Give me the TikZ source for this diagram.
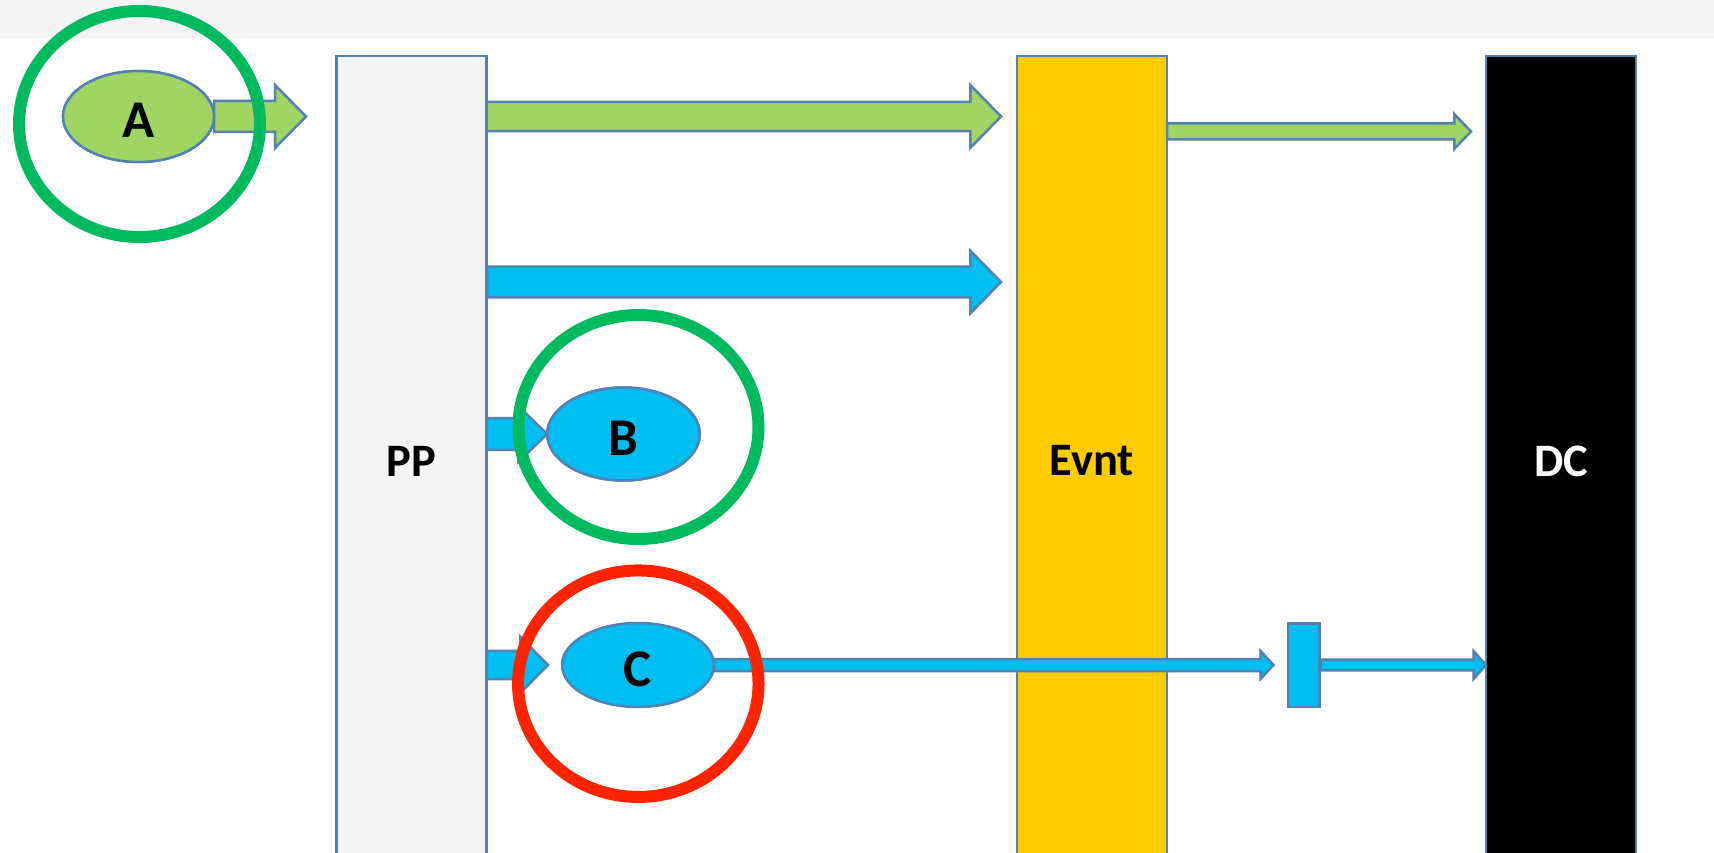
\documentclass[tikz,border=0pt]{standalone}
\usepackage{fontspec}
\setmainfont{Carlito}
\usetikzlibrary{calc,shapes.geometric}

\definecolor{edge}{HTML}{5282B4}
\definecolor{band}{HTML}{F4F4F4}
\definecolor{lgreen}{HTML}{A1D563}
\definecolor{sky}{HTML}{00BEF2}
\definecolor{ring}{HTML}{00BA60}
\definecolor{alert}{HTML}{FF2400}
\definecolor{amber}{HTML}{FFCC00}

\tikzset{
  column/.style={rectangle, draw=edge, line width=2.5pt, minimum width=150pt,
    minimum height=810pt, inner sep=0pt, outer sep=0pt,
    font=\bfseries\fontsize{46.5}{50}\selectfont},
  token/.style={ellipse, draw=edge, line width=2.5pt, fill=sky, inner sep=0pt,
    outer sep=0pt, text height=43pt, text depth=0pt,
    font=\bfseries\fontsize{53}{58}\selectfont},
  halo/.style={ellipse, draw=#1, line width=12pt, inner sep=0pt, outer sep=0pt},
  barrow/.style={draw=edge, line width=2.5pt, line join=miter},
}

% block arrow: fill, tail, tip, shaft half width, head half width, head length
\newcommand\blockarrow[6]{%
  \path[barrow, fill=#1] let \p1=(#2), \p2=(#3) in
    (\x1,\y1+#4pt) -- (\x2-#6pt,\y1+#4pt) -- (\x2-#6pt,\y1+#5pt) --
    (\x2,\y1) -- (\x2-#6pt,\y1-#5pt) -- (\x2-#6pt,\y1-#4pt) --
    (\x1,\y1-#4pt) -- cycle;}

\begin{document}
\begin{tikzpicture}[x=1pt, y=-1pt]
  \clip (0,0) rectangle (1714,853);
  \useasboundingbox (0,0) rectangle (1714,853);
  \fill[band] (0,0) rectangle (1714,38);

  % the three columns
  \node[column, fill=band] (PP) at (411.5,461) {PP};
  \node[column, fill=amber] (Evnt) at (1092,461) {Evnt};
  \node[column, fill=black, text=white] (DC) at (1561,461) {DC};

  % tokens
  \node[token, fill=lgreen, minimum width=151pt, minimum height=91pt] (A) at (138.5,116.5) {A};
  \node[token, minimum width=152.5pt, minimum height=93pt] (B) at (623.5,434) {B};
  \node[token, minimum width=152pt, minimum height=84pt] (C) at (638,665) {C};

  % buffer block in front of DC
  \node[rectangle, draw=edge, line width=2.5pt, fill=sky, minimum width=31.5pt,
    minimum height=83.5pt, inner sep=0pt] (buf) at (1303.5,665) {};

  % arrow tails and tips
  \coordinate (g1s) at (PP.east |- A.center);
  \coordinate (g1t) at ([xshift=-16pt]Evnt.west |- A.center);
  \coordinate (g2s) at (1167,131.5);
  \coordinate (g2t) at ([xshift=-15pt]DC.west |- g2s);
  \coordinate (b1s) at (487,282);
  \coordinate (b1t) at (g1t |- b1s);
  \coordinate (bBs) at (PP.east |- B.center);
  \coordinate (bBt) at (B.west);
  \coordinate (bCs) at (PP.east |- C.center);
  \coordinate (bCt) at ([xshift=-14pt]C.west);
  \coordinate (cEt) at ([xshift=-13pt]buf.west |- C.center);
  \coordinate (dEs) at (buf.east |- C.center);
  \coordinate (dEt) at (DC.west |- C.center);

  % arrows
  \blockarrow{lgreen}{A.east}{[xshift=92pt]A.east}{15.5}{31.5}{31}
  \blockarrow{lgreen}{g1s}{g1t}{14.7}{31.3}{30.6}
  \blockarrow{lgreen}{g2s}{g2t}{8}{17.3}{16.6}
  \blockarrow{sky}{b1s}{b1t}{15.3}{31.2}{30.6}
  \blockarrow{sky}{bBs}{bBt}{15.8}{28}{29}
  \blockarrow{sky}{bCs}{bCt}{14.2}{28.4}{28}
  \blockarrow{sky}{C.east}{cEt}{6}{14}{13}
  \blockarrow{sky}{dEs}{dEt}{5.3}{14}{12.5}

  % tokens again on top of their arrows
  \node[token, fill=lgreen, minimum width=151pt, minimum height=91pt] at (A) {A};
  \node[token, minimum width=152.5pt, minimum height=93pt] at (B) {B};

  % highlight rings
  \node[halo=ring, minimum width=241pt, minimum height=226pt] (ringA) at (139.5,124) {};
  \node[halo=ring, minimum width=240pt, minimum height=224pt] (ringB) at (638.5,427) {};
  \node[halo=alert, minimum width=240.5pt, minimum height=226.5pt] (ringC) at (638.3,683.7) {};
\end{tikzpicture}
\end{document}
